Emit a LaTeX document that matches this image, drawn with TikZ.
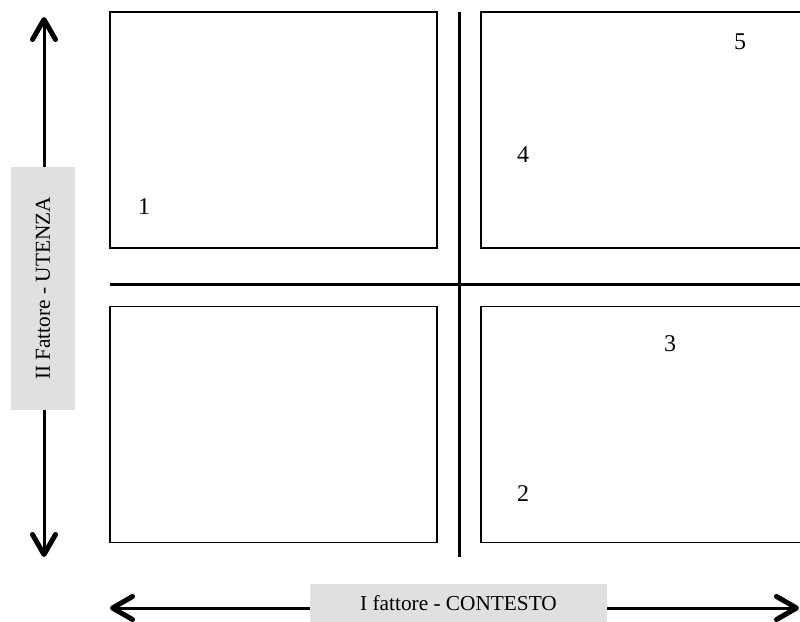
\documentclass[tikz,border=0pt]{standalone}
\usepackage{fontspec}
\setmainfont{Liberation Serif}
\usetikzlibrary{arrows.meta}
\definecolor{labelgray}{RGB}{224,224,224}

\begin{document}
\begin{tikzpicture}[x=1pt, y=-1pt,
    quad/.style = {draw, line width=1.4pt, minimum width=327pt, minimum height=236pt, inner sep=0pt},
    num/.style = {font=\fontsize{24}{28}\selectfont},
    axislabel/.style = {fill=labelgray, inner sep=0pt, font=\fontsize{21.3}{25}\selectfont},
    axis/.style = {line width=3pt, {Straight Barb[length=20pt,width=23pt,line width=5pt,round]}-{Straight Barb[length=20pt,width=23pt,line width=5pt,round]}},
    divider/.style = {line width=3pt}]
    \useasboundingbox (0,0) rectangle (800,621);
    \clip (0,0) rectangle (800,621);
    % quadrants
    \node[quad] (tl) at (273.5,130) {};
    \node[quad] (tr) at (644.5,130) {};
    \node[quad] (bl) at (273.5,424.5) {};
    \node[quad] (br) at (644.5,424.5) {};
    % dividers
    \coordinate (hl) at (110,284);
    \coordinate (hr) at (802,284);
    \coordinate (vt) at (459,12);
    \coordinate (vb) at (459,557);
    \draw[divider] (hl) -- (hr);
    \draw[divider] (vt) -- (vb);
    % axes
    \coordinate (ytop) at (44,17);
    \coordinate (ybot) at (44,557);
    \coordinate (xleft) at (110,608);
    \coordinate (xright) at (799,608);
    \draw[axis] (ybot) -- (ytop);
    \draw[axis] (xleft) -- (xright);
    \node[axislabel, minimum width=243pt, minimum height=64pt, rotate=90] (ylab) at (43,288.5) {II Fattore - UTENZA};
    \node[axislabel, minimum width=297pt, minimum height=39pt] (xlab) at (458.5,603.5) {I fattore - CONTESTO};
    % points
    \node[num] (p1) at (144,207) {1};
    \node[num] (p2) at (523,494) {2};
    \node[num] (p3) at (670,344) {3};
    \node[num] (p4) at (523,155) {4};
    \node[num] (p5) at (740,42) {5};
\end{tikzpicture}
\end{document}
